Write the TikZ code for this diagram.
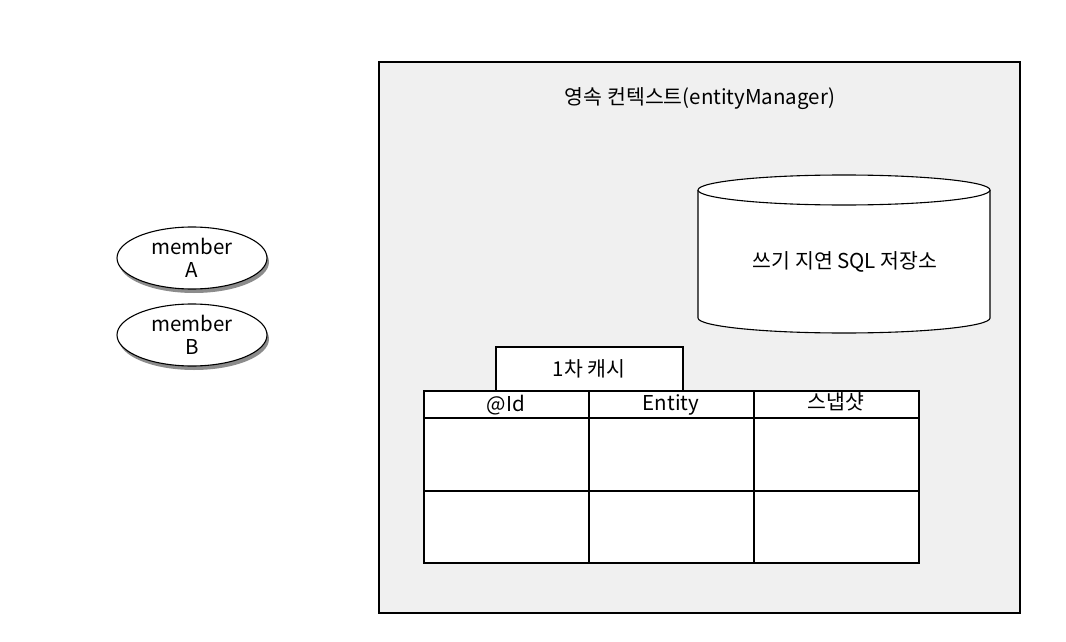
\documentclass[tikz,border=0pt]{standalone}
\usepackage{fontspec}
\setmainfont{Noto Sans CJK KR}
\usetikzlibrary{shapes.geometric}
\begin{document}
\begin{tikzpicture}[x=1pt,y=-1pt,
  txt/.style={inner sep=0pt, font=\fontsize{20.5}{24}\selectfont},
  line/.style={draw=black, line width=1.1pt},
  memb/.style={ellipse, draw=black, line width=1.1pt, fill=white, minimum width=150pt, minimum height=62pt, inner sep=0pt, align=center, font=\fontsize{20.5}{23}\selectfont},
  shad/.style={ellipse, fill=black!45, minimum width=150pt, minimum height=62pt, inner sep=0pt}
]
\useasboundingbox (0,0) rectangle (1066,642);
% outer persistence context box
\draw[line, fill=black!6] (379,62) rectangle (1020,613);
\node[txt] (title) at (700,99) {영속 컨텍스트(entityManager)};
% cylinder
\draw[line, fill=white] (698,190) -- (698,318) arc[start angle=180, end angle=0, x radius=146, y radius=15] -- (990,190);
\draw[line, fill=white] (844,190) ellipse[x radius=146, y radius=15];
\node[txt] (sql) at (845,262) {쓰기 지연 SQL 저장소};
% 1st level cache label box
\draw[line, fill=white] (496,347) rectangle (683,391);
\node[txt] (cache) at (589,369) {1차 캐시};
% table
\draw[line, fill=white] (424,391) rectangle (919,563);
\draw[line] (424,418) -- (919,418);
\draw[line] (424,491) -- (919,491);
\draw[line] (589,391) -- (589,563);
\draw[line] (754,391) -- (754,563);
\node[txt] (hid) at (506,405) {@Id};
\node[txt] (hent) at (671,405) {Entity};
\node[txt] (hsnap) at (836,402) {스냅샷};
% members
\node[shad] at (194,262) {};
\node[memb] (ma) at (192,258) {member\\A};
\node[shad] at (194,339) {};
\node[memb] (mb) at (192,335) {member\\B};
\end{tikzpicture}
\end{document}
